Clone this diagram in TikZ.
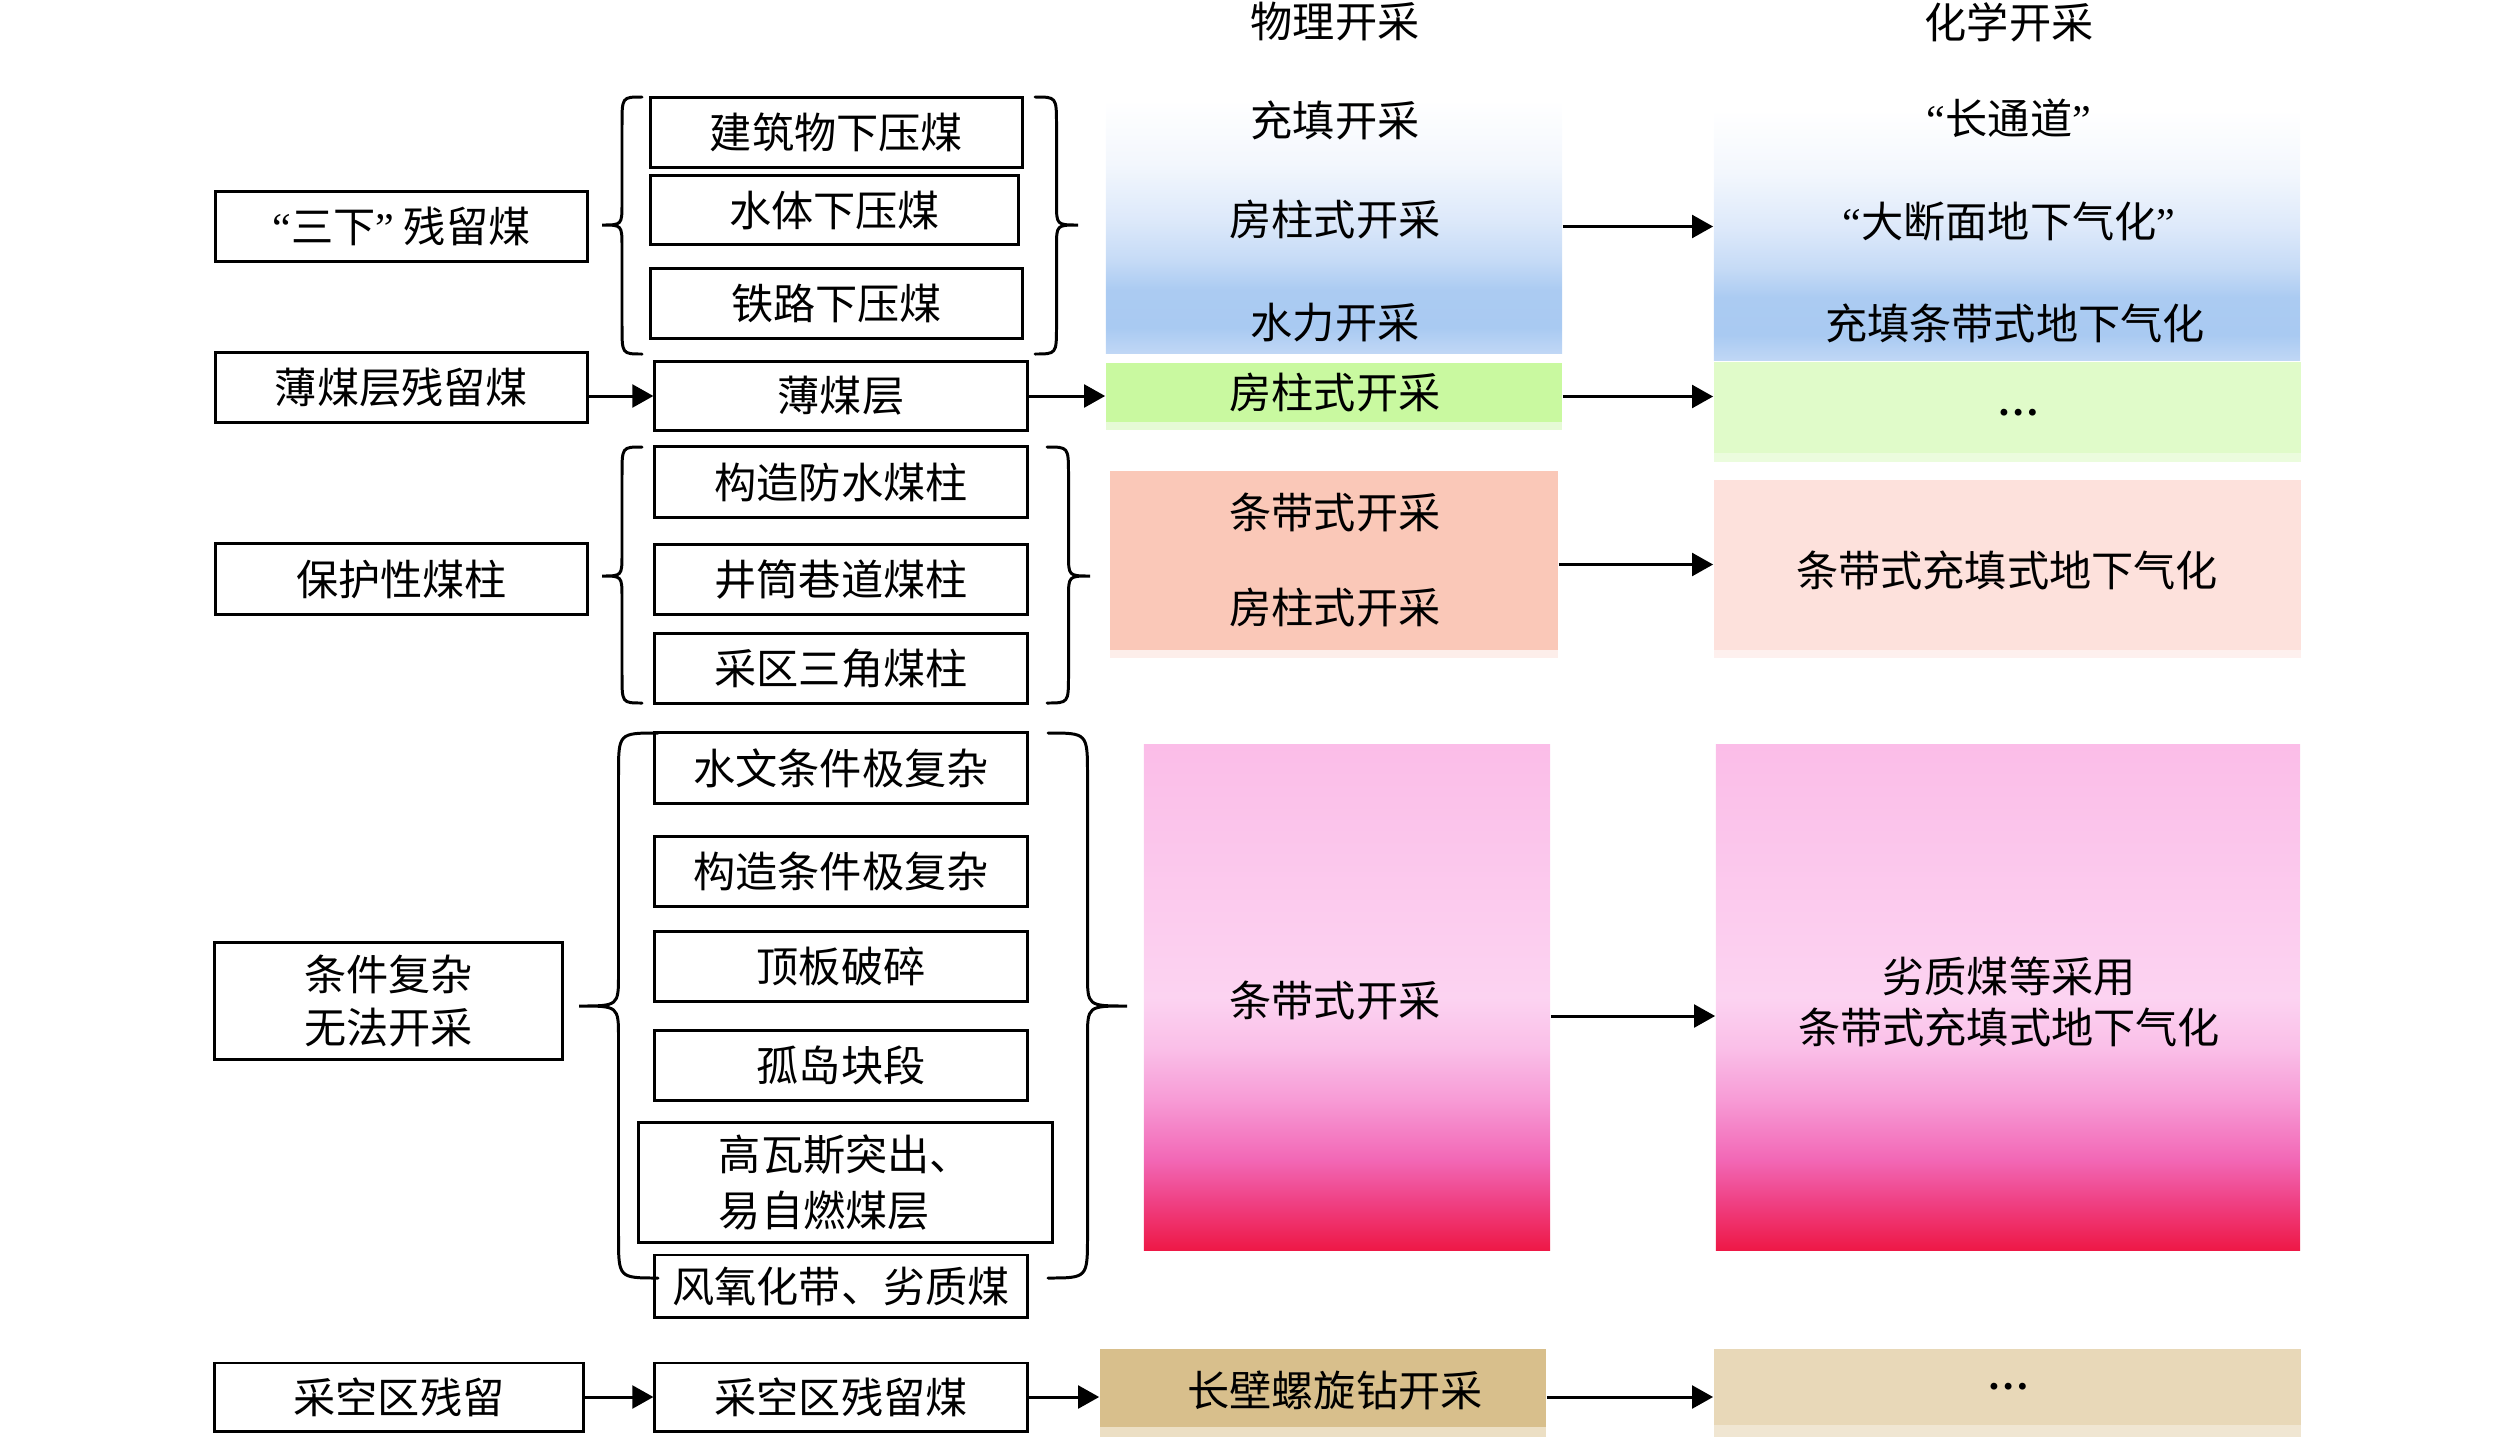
\documentclass[tikz,border=0pt]{standalone}
\usepackage{fontspec}
\setmainfont{Noto Sans CJK SC}
\newfontfamily\latf{Liberation Serif}
\usetikzlibrary{arrows.meta}
\definecolor{blueB}{HTML}{F3F7FD}
\definecolor{blueC}{HTML}{DDE9FA}
\definecolor{blueD}{HTML}{C6DBF6}
\definecolor{blueE}{HTML}{ABCBF2}
\definecolor{blueF}{HTML}{A9CAF2}
\definecolor{blueG}{HTML}{C0D7F5}
\definecolor{greenLc}{HTML}{C9F9A0}
\definecolor{greenLs}{HTML}{E6FAD6}
\definecolor{greenRc}{HTML}{E0FBC9}
\definecolor{greenRs}{HTML}{EBFCDD}
\definecolor{salLc}{HTML}{FAC8B8}
\definecolor{salLs}{HTML}{FDEEEA}
\definecolor{salRc}{HTML}{FDE1DC}
\definecolor{salRs}{HTML}{FEF0EE}
\definecolor{pkA}{HTML}{FBBDE8}
\definecolor{pkB}{HTML}{FCD3F1}
\definecolor{pkC}{HTML}{FABFE8}
\definecolor{pkD}{HTML}{F79CD6}
\definecolor{pkE}{HTML}{F268B6}
\definecolor{pkF}{HTML}{EF3E80}
\definecolor{pkG}{HTML}{EE1846}
\definecolor{tanLc}{HTML}{D8BF8C}
\definecolor{tanLs}{HTML}{ECDFC4}
\definecolor{tanRc}{HTML}{E8D8B8}
\definecolor{tanRs}{HTML}{F0E6D2}
\pgfdeclareverticalshading{blueg}{100bp}{color(0bp)=(blueG); color(25bp)=(blueG); color(30bp)=(blueF); color(37.5bp)=(blueE); color(43.5bp)=(blueD); color(51.5bp)=(blueC); color(62.5bp)=(blueB); color(75bp)=(white); color(100bp)=(white)}
\pgfdeclareverticalshading{pinkg}{100bp}{color(0bp)=(pkG); color(25bp)=(pkG); color(29.5bp)=(pkF); color(34bp)=(pkE); color(40bp)=(pkD); color(45bp)=(pkC); color(50bp)=(pkB); color(75bp)=(pkA); color(100bp)=(pkA)}
\newcommand\myLQ{{\latf “}}
\newcommand\myRQ{{\latf ”}}
% #1 end x, #2 tip x, #3 top y, #4 bottom y, #5 tip y, #6 end radius, #7 tip radius
\newcommand\CurlyBr[7]{%
  \pgfmathsetmacro\brs{(#1+#2)/2}%
  \draw[bracestyle] (#1,#3) .. controls (\brs,#3) .. (\brs,#3+#6) -- (\brs,#5-#7) .. controls (\brs,#5) .. (#2,#5) .. controls (\brs,#5) .. (\brs,#5+#7) -- (\brs,#4-#6) .. controls (\brs,#4) .. (#1,#4);%
}
\begin{document}
\begin{tikzpicture}[x=0.01cm,y=-0.01cm,
  every node/.style={font=\fontsize{12}{15}\selectfont, inner sep=0pt},
  box/.style={draw, line width=0.85pt, align=center},
  blk/.style={draw=none, inner sep=0pt},
  lbl/.style={align=center},
  arr/.style={line width=0.85pt, -{Triangle[length=6pt,width=6.5pt]}},
  bracestyle/.style={line width=0.85pt, line cap=round}]
\useasboundingbox (0,0) rectangle (2520,1445);

% ---------- coloured blocks ----------
\node[blk, shade, shading=blueg, minimum width=4.56cm, minimum height=2.53cm] (blueL) at (1334,226.5) {};
\node[blk, shade, shading=blueg, minimum width=5.86cm, minimum height=2.50cm] (blueR) at (2007,235) {};
\node[blk, fill=greenLs, minimum width=4.56cm, minimum height=0.67cm] (greenL) at (1334,396.5) {};
\fill[greenLc] (1106,363) rectangle (1562,422);
\node[blk, fill=greenRs, minimum width=5.87cm, minimum height=1.00cm] (greenR) at (2007.5,412) {};
\fill[greenRc] (1714,362) rectangle (2301,453);
\node[blk, fill=salLs, minimum width=4.48cm, minimum height=1.87cm] (salL) at (1334,564.5) {};
\fill[salLc] (1110,471) rectangle (1558,650);
\node[blk, fill=salRs, minimum width=5.87cm, minimum height=1.78cm] (salR) at (2007.5,569) {};
\fill[salRc] (1714,480) rectangle (2301,650);
\node[blk, shade, shading=pinkg, minimum width=4.06cm, minimum height=5.05cm] (pinkL) at (1347,997.5) {};
\node[blk, shade, shading=pinkg, minimum width=5.84cm, minimum height=5.05cm] (pinkR) at (2008,997.5) {};
\node[blk, fill=tanLs, minimum width=4.46cm, minimum height=0.88cm] (tanL) at (1323,1393) {};
\fill[tanLc] (1100,1349) rectangle (1546,1427);
\node[blk, fill=tanRs, minimum width=5.87cm, minimum height=0.88cm] (tanR) at (2007.5,1393) {};
\fill[tanRc] (1714,1349) rectangle (2301,1425);

% ---------- column titles and block texts ----------
\node[lbl] (t1) at (1335,22) {物理开采};
\node[lbl] (t2) at (2009,22) {化学开采};
\node[lbl] (p1) at (1335,120) {充填开采};
\node[lbl] (p2) at (1335,220) {房柱式开采};
\node[lbl] (p3) at (1335,323) {水力开采};
\node[lbl] (c1) at (2009,118) {\myLQ 长通道\myRQ};
\node[lbl] (c2) at (2009,222) {\myLQ 大断面地下气化\myRQ};
\node[lbl] (c3) at (2015,323) {充填条带式地下气化};
\node[lbl] (p4) at (1335,393) {房柱式开采};
\node[lbl] (c4) at (2019,413) {\latf\bfseries …};
\node[lbl] (p5) at (1335,512) {条带式开采};
\node[lbl] (p6) at (1335,608) {房柱式开采};
\node[lbl] (c5) at (2007,570) {条带式充填式地下气化};
\node[lbl] (p7) at (1335,1000) {条带式开采};
\node[lbl, font=\fontsize{12}{14.5}\selectfont] (c6) at (2009,1002) {劣质煤等采用\\条带式充填式地下气化};
\node[lbl] (p8) at (1335,1390) {长壁螺旋钻开采};
\node[lbl] (c7) at (2009,1387) {\latf\bfseries …};

% ---------- left boxes ----------
\node[box, minimum width=3.71cm, minimum height=0.69cm] (sanxia) at (401.5,226.5) {\myLQ 三下\myRQ{} 残留煤};
\node[box, minimum width=3.71cm, minimum height=0.69cm] (jianzhu) at (836.5,132.5) {建筑物下压煤};
\node[box, minimum width=3.67cm, minimum height=0.68cm] (shuiti) at (834.5,210) {水体下压煤};
\node[box, minimum width=3.71cm, minimum height=0.69cm] (tielu) at (836.5,303.5) {铁路下压煤};
\node[box, minimum width=3.71cm, minimum height=0.69cm] (bmcL) at (401.5,387.5) {薄煤层残留煤};
\node[box, minimum width=3.72cm, minimum height=0.68cm] (bmc) at (841,396) {薄煤层};
\node[box, minimum width=3.71cm, minimum height=0.70cm] (baohu) at (401.5,579) {保护性煤柱};
\node[box, minimum width=3.72cm, minimum height=0.70cm] (gzfs) at (841,482) {构造防水煤柱};
\node[box, minimum width=3.72cm, minimum height=0.69cm] (jtxd) at (841,579.5) {井筒巷道煤柱};
\node[box, minimum width=3.72cm, minimum height=0.69cm] (cqsj) at (841,668.5) {采区三角煤柱};
\node[box, minimum width=3.47cm, minimum height=1.16cm, font=\fontsize{12}{15}\selectfont] (tiaojian) at (388.5,1001) {条件复杂\\无法开采};
\node[box, minimum width=3.72cm, minimum height=0.70cm] (shuiwen) at (841,768) {水文条件极复杂};
\node[box, minimum width=3.72cm, minimum height=0.69cm] (gztj) at (841,871.5) {构造条件极复杂};
\node[box, minimum width=3.72cm, minimum height=0.69cm] (dingban) at (841,966.5) {顶板破碎};
\node[box, minimum width=3.72cm, minimum height=0.69cm] (gudao) at (841,1065.5) {孤岛块段};
\node[box, minimum width=4.13cm, minimum height=1.19cm, align=left, font=\fontsize{12}{16}\selectfont] (gws) at (845.5,1182.5) {高瓦斯突出、\\易自燃煤层};
\node[box, minimum width=3.72cm, minimum height=0.62cm] (fyh) at (841,1286) {风氧化带、劣质煤};
\node[box, minimum width=3.68cm, minimum height=0.68cm] (ckL) at (399,1397) {采空区残留};
\node[box, minimum width=3.72cm, minimum height=0.68cm] (ck) at (841,1397) {采空区残留煤};

% ---------- braces ----------
\CurlyBr{642}{602}{97}{354}{225}{28}{22}
\CurlyBr{1035}{1078}{97}{354}{225}{28}{22}
\CurlyBr{642}{602}{447}{703}{576}{28}{22}
\CurlyBr{1047}{1090}{447}{703}{576}{28}{22}
\CurlyBr{658}{579}{733}{1278}{1006}{42}{32}
\CurlyBr{1048}{1127}{733}{1278}{1006}{42}{32}

% ---------- arrows ----------
\draw[arr] (bmcL.east |- bmc.west) -- (bmc.west);
\draw[arr] (bmc.east) -- (bmc.east -| greenL.west);
\draw[arr] (blueL.east) -- (blueL.east -| blueR.west);
\draw[arr] (greenL.east) -- (greenL.east -| greenR.west);
\draw[arr] (salL.east) -- (salL.east -| salR.west);
\coordinate (pka) at ([yshift=-0.185cm]pinkL.east);
\draw[arr] (pka) -- (pka -| pinkR.west);
\draw[arr] (ckL.east) -- (ck.west);
\draw[arr] (ck.east) -- (ck.east -| tanL.west);
\draw[arr] (tanL.east |- ck.east) -- (ck.east -| tanR.west);
\end{tikzpicture}
\end{document}
